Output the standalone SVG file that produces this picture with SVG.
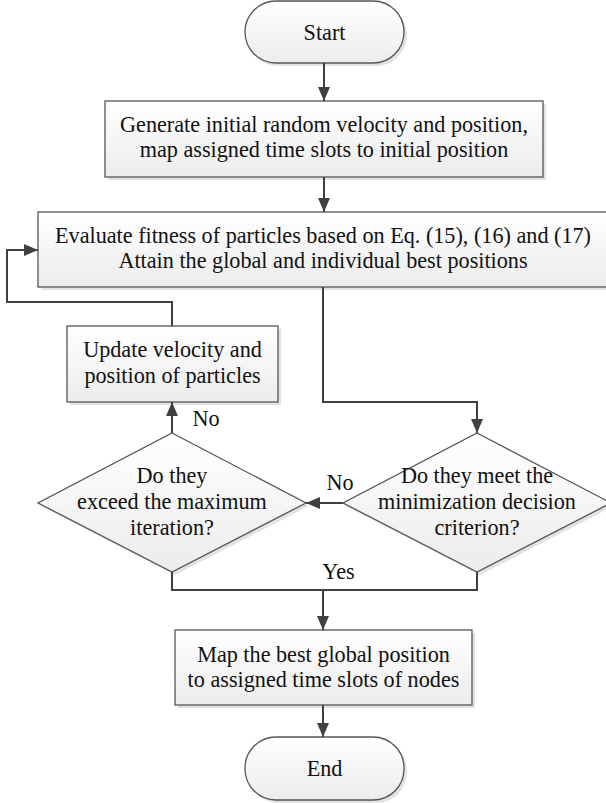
<svg xmlns="http://www.w3.org/2000/svg" width="606" height="803" viewBox="0 0 606 803">
<defs>
<linearGradient id="g" x1="0" y1="0" x2="0" y2="1">
<stop offset="0" stop-color="#ffffff"/>
<stop offset="1" stop-color="#ececec"/>
</linearGradient>
<marker id="ah" markerWidth="14" markerHeight="12" refX="14" refY="6" orient="auto" markerUnits="userSpaceOnUse">
<path d="M0,0 L14,6 L0,12 Z" fill="#404040"/>
</marker>
<style>
.shape{fill:url(#g);stroke:#555555;stroke-width:1.3}
.shadow{fill:#e2e2e2;stroke:none}
.t{font-family:"Liberation Serif","Times New Roman",serif;font-size:22.2px;fill:#111111;text-anchor:middle}
.c{fill:none;stroke:#404040;stroke-width:2}
.ca{fill:none;stroke:#404040;stroke-width:2;marker-end:url(#ah)}
</style>
</defs>

<g id="start">
<rect class="shadow" x="248" y="4" width="159" height="62" rx="31"/>
<rect class="shape" x="245" y="1" width="159" height="62" rx="31"/>
<text class="t" x="324.5" y="40">Start</text>
</g>

<g id="init">
<rect class="shadow" x="108" y="104" width="438" height="76"/>
<rect class="shape" x="105" y="101" width="438" height="76"/>
<text class="t" x="324" y="132">Generate initial random velocity and position,</text>
<text class="t" x="324" y="157">map assigned time slots to initial position</text>
</g>

<g id="evaluate">
<rect class="shadow" x="41" y="215" width="572" height="75"/>
<rect class="shape" x="38" y="212" width="572" height="75"/>
<text class="t" x="323" y="243">Evaluate fitness of particles based on Eq. (15), (16) and (17)</text>
<text class="t" x="323" y="268">Attain the global and individual best positions</text>
</g>

<g id="update">
<rect class="shadow" x="70" y="329" width="211" height="76"/>
<rect class="shape" x="67" y="326" width="211" height="76"/>
<text class="t" x="172.5" y="357">Update velocity and</text>
<text class="t" x="172.5" y="383">position of particles</text>
</g>

<g id="maxiter">
<path class="shadow" d="M175,436 L309,506 L175,575 L41,506 Z"/>
<path class="shape" d="M172,433 L306,503 L172,572 L38,503 Z"/>
<text class="t" x="172" y="483">Do they</text>
<text class="t" x="172" y="509">exceed the maximum</text>
<text class="t" x="172" y="535">iteration?</text>
</g>

<g id="criterion">
<path class="shadow" d="M480,436 L614,506 L480,575 L346,506 Z"/>
<path class="shape" d="M477,433 L611,503 L477,572 L343,503 Z"/>
<text class="t" x="477" y="483">Do they meet the</text>
<text class="t" x="477" y="509">minimization decision</text>
<text class="t" x="477" y="535">criterion?</text>
</g>

<g id="map">
<rect class="shadow" x="178" y="633" width="297" height="75"/>
<rect class="shape" x="175" y="630" width="297" height="75"/>
<text class="t" x="323.5" y="662">Map the best global position</text>
<text class="t" x="323.5" y="687">to assigned time slots of nodes</text>
</g>

<g id="end">
<rect class="shadow" x="248" y="740" width="159" height="63" rx="31"/>
<rect class="shape" x="245" y="737" width="159" height="63" rx="31"/>
<text class="t" x="324.5" y="776">End</text>
</g>

<g id="connectors">
<path class="ca" d="M324,63 L324,101"/>
<path class="ca" d="M324,177 L324,212"/>
<path class="ca" d="M323,287 L323,402 L477,402 L477,433"/>
<path class="ca" d="M343,503 L306,503"/>
<path class="ca" d="M172,433 L172,402"/>
<path class="ca" d="M172,326 L172,302 L7,302 L7,250 L38,250"/>
<path class="c" d="M172,572 L172,590 L477,590 L477,572"/>
<path class="ca" d="M323,590 L323,630"/>
<path class="ca" d="M323,705 L323,737"/>
<text class="t" x="340" y="490">No</text>
<text class="t" x="206" y="426">No</text>
<text class="t" x="338.5" y="579">Yes</text>
</g>
</svg>
